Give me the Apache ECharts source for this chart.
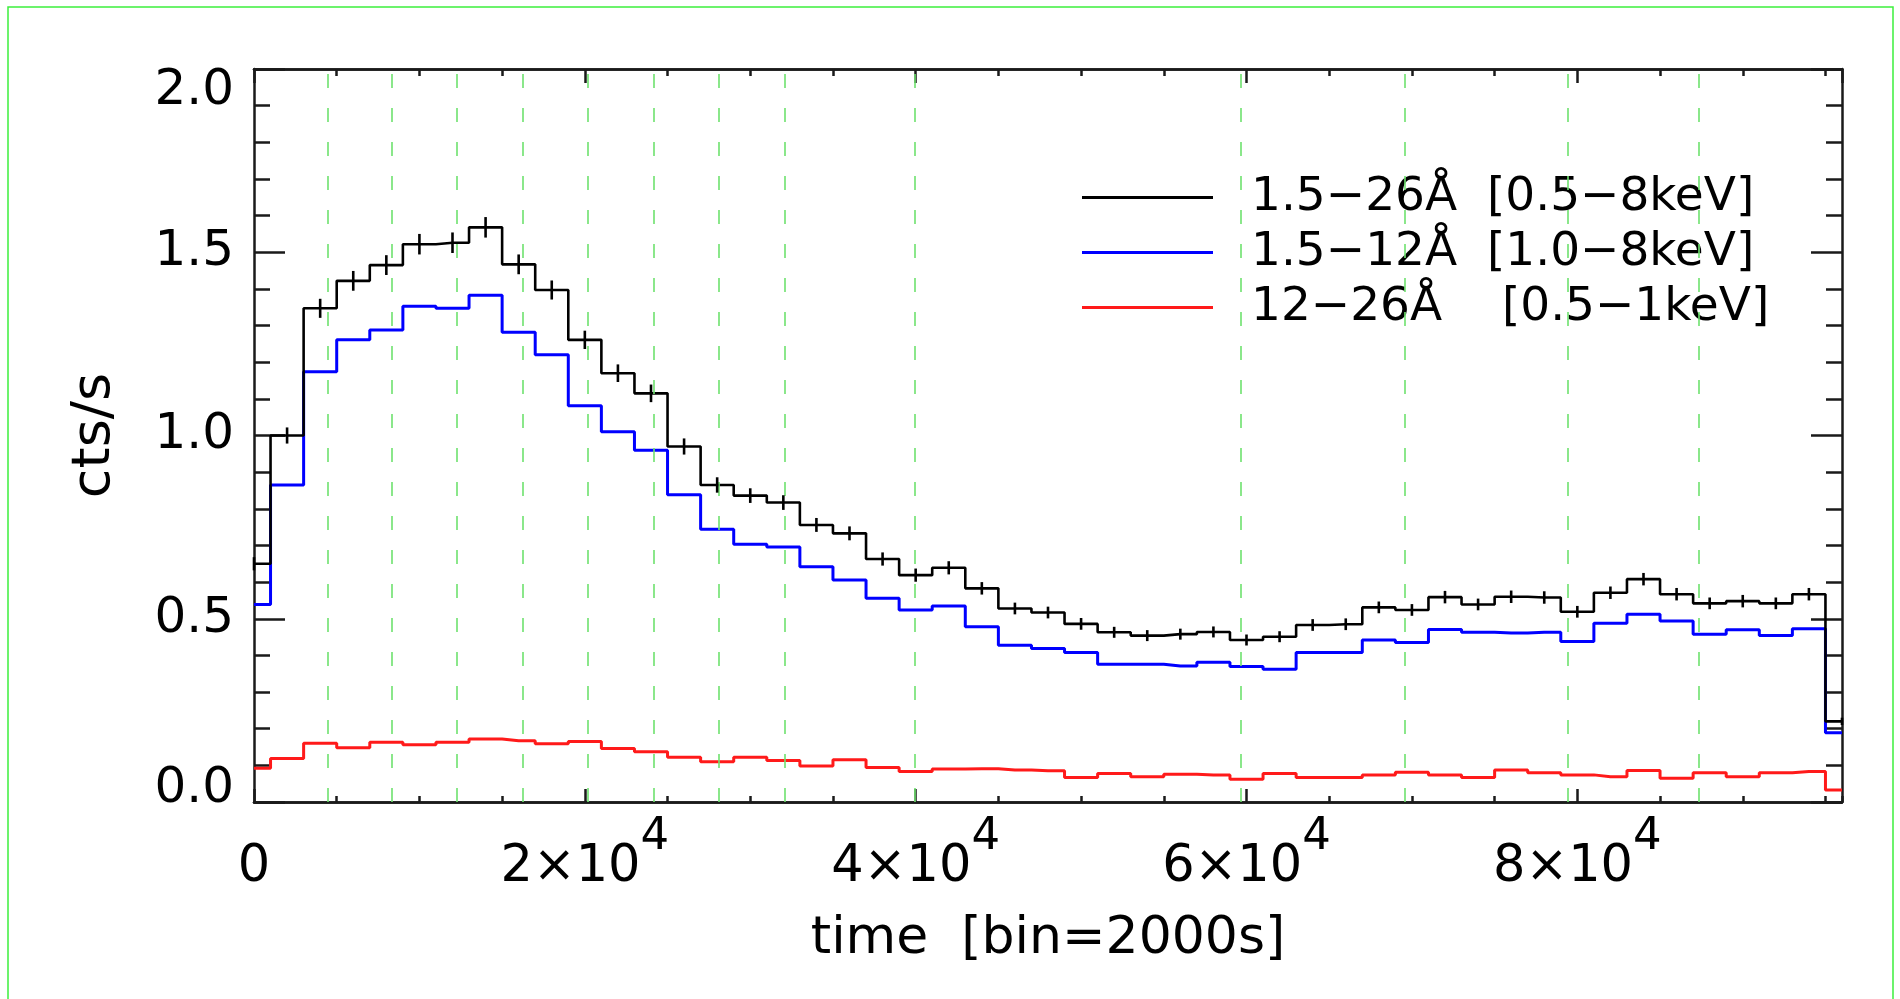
<!DOCTYPE html>
<html>
<head>
<meta charset="utf-8">
<script src="https://cdn.jsdelivr.net/npm/echarts@6/dist/echarts.min.js"></script>
<style>
  html, body { margin: 0; padding: 0; background: #ffffff; }
  #chart { width: 1900px; height: 999px; }
</style>
</head>
<body>
<div id="chart"></div>
<script>
// Light curve binned at 2000 s: count rate in three wavelength bands.
const binTimes = [
  0, 2000, 4000, 6000, 8000, 10000, 12000, 14000, 16000, 18000,
  20000, 22000, 24000, 26000, 28000, 30000, 32000, 34000, 36000, 38000,
  40000, 42000, 44000, 46000, 48000, 50000, 52000, 54000, 56000, 58000,
  60000, 62000, 64000, 66000, 68000, 70000, 72000, 74000, 76000, 78000,
  80000, 82000, 84000, 86000, 88000, 90000, 92000, 94000, 96000
];

// 1.5-26 Å  (0.5-8 keV)
const rateTotal = [
  0.650, 1.000, 1.347, 1.422, 1.465, 1.522, 1.526, 1.568, 1.467, 1.397,
  1.261, 1.170, 1.115, 0.970, 0.865, 0.836, 0.817, 0.756, 0.733, 0.663,
  0.619, 0.639, 0.583, 0.528, 0.517, 0.486, 0.463, 0.454, 0.458, 0.464,
  0.442, 0.451, 0.483, 0.485, 0.531, 0.524, 0.559, 0.539, 0.560, 0.558,
  0.519, 0.571, 0.608, 0.567, 0.542, 0.548, 0.542, 0.567, 0.220
];

// 1 sigma errors on the total band
const errTotal = [
  0.018, 0.022, 0.026, 0.027, 0.027, 0.028, 0.028, 0.028, 0.027, 0.026,
  0.025, 0.024, 0.024, 0.022, 0.021, 0.020, 0.020, 0.019, 0.019, 0.018,
  0.018, 0.018, 0.017, 0.016, 0.016, 0.016, 0.015, 0.015, 0.015, 0.015,
  0.015, 0.015, 0.016, 0.016, 0.016, 0.016, 0.017, 0.016, 0.017, 0.017,
  0.016, 0.017, 0.017, 0.017, 0.016, 0.017, 0.016, 0.017, 0.010
];

// 1.5-12 Å  (1.0-8 keV)
const rateHard = [
  0.539, 0.865, 1.174, 1.261, 1.288, 1.353, 1.347, 1.383, 1.282, 1.220,
  1.081, 1.010, 0.960, 0.838, 0.744, 0.703, 0.696, 0.642, 0.606, 0.556,
  0.524, 0.535, 0.478, 0.428, 0.419, 0.408, 0.376, 0.376, 0.371, 0.381,
  0.370, 0.362, 0.408, 0.408, 0.442, 0.435, 0.471, 0.463, 0.461, 0.463,
  0.438, 0.488, 0.512, 0.494, 0.458, 0.470, 0.454, 0.473, 0.189
];

// 12-26 Å  (0.5-1 keV)
const rateSoft = [
  0.092, 0.119, 0.160, 0.148, 0.163, 0.156, 0.163, 0.172, 0.167, 0.159,
  0.165, 0.146, 0.137, 0.122, 0.110, 0.122, 0.113, 0.098, 0.115, 0.094,
  0.083, 0.090, 0.091, 0.087, 0.085, 0.067, 0.078, 0.069, 0.076, 0.074,
  0.062, 0.078, 0.067, 0.067, 0.074, 0.081, 0.074, 0.067, 0.087, 0.080,
  0.074, 0.069, 0.086, 0.065, 0.080, 0.069, 0.080, 0.083, 0.033
];

// Reference epochs marked with dashed green lines (s)
const markerTimes = [4430, 8320, 12260, 16220, 20190, 24140, 28110, 32060, 39960, 59670, 69550, 79400, 87320];

const seriesNames = [
  '1.5\u221226\u00c5  [0.5\u22128keV]',
  '1.5\u221212\u00c5  [1.0\u22128keV]',
  '12\u221226\u00c5    [0.5\u22121keV]'
];
const seriesColors = ['#000000', '#0000ff', '#ff1a1a'];

const xMajorTicks = [0, 20000, 40000, 60000, 80000];
const yTicks = [0, 0.5, 1.0, 1.5, 2.0];
const xTitle = 'time  [bin=2000s]';
const yTitle = 'cts/s';

const FONT = 'DejaVu Sans';
const INK = '#1a1a1a';

const chart = echarts.init(document.getElementById('chart'), null, { renderer: 'canvas' });

function pairs(values) {
  return binTimes.map((t, i) => [t, values[i]]);
}

function xLabel(v) {
  if (xMajorTicks.indexOf(v) < 0) return '';
  if (v === 0) return '{m|0}';
  const exp = Math.floor(Math.log10(v) + 1e-9);
  const mant = Math.round(v / Math.pow(10, exp));
  return '{m|' + mant + '\u00d710}{e|' + exp + '}';
}

function yLabel(v) {
  if (yTicks.indexOf(v) < 0) return '';
  const s = v.toFixed(1);
  if (v === yTicks[yTicks.length - 1]) return '{top|' + s + '}';
  if (v === yTicks[0]) return '{bot|' + s + '}';
  return '{n|' + s + '}';
}

const axisLine = { show: true, onZero: false, lineStyle: { color: INK, width: 2.5 } };
const tickStyle = { color: INK, width: 2.5 };

const baseX = {
  type: 'value', min: 0, max: 96000,
  axisLine: axisLine,
  splitLine: { show: false },
  axisPointer: { show: false }
};
const baseY = {
  type: 'value', min: 0, max: 2, interval: 0.5,
  axisLine: axisLine,
  splitLine: { show: false },
  minorTick: { show: true, splitNumber: 5, length: 16, lineStyle: tickStyle },
  minorSplitLine: { show: false },
  axisPointer: { show: false }
};

const option = {
  backgroundColor: '#ffffff',
  animation: false,
  textStyle: { fontFamily: FONT },
  grid: { left: 254, right: 58, top: 69, bottom: 197, containLabel: false, outerBoundsMode: 'none' },
  graphic: [{
    type: 'rect',
    shape: { x: 8, y: 7, width: 1885, height: 1020 },
    style: { fill: 'none', stroke: '#3cf03c', lineWidth: 1.5 },
    silent: true, z: -10
  }],
  legend: {
    show: true,
    orient: 'vertical',
    left: 1082, top: 170,
    padding: 0,
    itemGap: 0,
    itemWidth: 131, itemHeight: 3,
    icon: 'rect',
    selectedMode: false,
    data: seriesNames,
    textStyle: { fontFamily: FONT, fontSize: 47, color: '#000', lineHeight: 55, padding: [0, 0, 0, 33] }
  },
  xAxis: [
    Object.assign({}, baseX, {
      position: 'bottom', interval: 20000,
      axisTick: { show: true, inside: true, length: 13, lineStyle: tickStyle },
      axisLabel: {
        show: true, margin: 13, color: '#000', fontFamily: FONT,
        showMaxLabel: false,
        formatter: xLabel,
        rich: {
          m: { fontSize: 51, fontFamily: FONT, color: '#000', padding: [27, 0, 0, 0] },
          e: { fontSize: 45, fontFamily: FONT, color: '#000', verticalAlign: 'top' }
        }
      },
      name: xTitle, nameLocation: 'middle', nameGap: 111,
      nameTextStyle: { fontFamily: FONT, fontSize: 52, color: '#000' }
    }),
    Object.assign({}, baseX, {
      position: 'bottom', interval: 5000,
      axisTick: { show: true, inside: true, length: 6, lineStyle: tickStyle },
      axisLabel: { show: false }
    }),
    Object.assign({}, baseX, {
      position: 'top', interval: 20000,
      axisTick: { show: true, inside: true, length: 14, lineStyle: tickStyle },
      axisLabel: { show: false }
    }),
    Object.assign({}, baseX, {
      position: 'top', interval: 5000,
      axisTick: { show: true, inside: true, length: 7, lineStyle: tickStyle },
      axisLabel: { show: false }
    })
  ],
  yAxis: [
    Object.assign({}, baseY, {
      position: 'left',
      axisTick: { show: true, inside: true, length: 31, lineStyle: tickStyle },
      axisLabel: {
        show: true, margin: 20, color: '#000', fontFamily: FONT,
        formatter: yLabel,
        rich: {
          n: { fontSize: 50, fontFamily: FONT, color: '#000' },
          top: { fontSize: 50, fontFamily: FONT, color: '#000', padding: [44, 0, 0, 0] },
          bot: { fontSize: 50, fontFamily: FONT, color: '#000', padding: [0, 0, 26, 0] }
        }
      },
      name: yTitle, nameLocation: 'middle', nameGap: 132, nameRotate: 90,
      nameTextStyle: { fontFamily: FONT, fontSize: 54, color: '#000' }
    }),
    Object.assign({}, baseY, {
      position: 'right',
      axisTick: { show: true, inside: true, length: 31, lineStyle: tickStyle },
      axisLabel: { show: false }
    })
  ],
  series: [
    {
      name: 'epochs', type: 'line', data: [], silent: true, z: 1,
      xAxisIndex: 0, yAxisIndex: 0,
      markLine: {
        silent: true, symbol: ['none', 'none'], animation: false,
        label: { show: false },
        lineStyle: { color: '#6ee26e', width: 1.6, type: [14, 20] },
        data: markerTimes.map(t => ({ xAxis: t }))
      }
    },
    {
      name: seriesNames[2], type: 'line', step: 'middle', data: pairs(rateSoft),
      xAxisIndex: 0, yAxisIndex: 0,
      symbol: 'none', showSymbol: false, silent: true, z: 3,
      itemStyle: { color: seriesColors[2] },
      lineStyle: { color: seriesColors[2], width: 3 }
    },
    {
      name: seriesNames[1], type: 'line', step: 'middle', data: pairs(rateHard),
      xAxisIndex: 0, yAxisIndex: 0,
      symbol: 'none', showSymbol: false, silent: true, z: 3,
      itemStyle: { color: seriesColors[1] },
      lineStyle: { color: seriesColors[1], width: 3 }
    },
    {
      name: seriesNames[0], type: 'line', step: 'middle', data: pairs(rateTotal),
      xAxisIndex: 0, yAxisIndex: 0,
      symbol: 'none', showSymbol: false, silent: true, z: 4,
      itemStyle: { color: seriesColors[0] },
      lineStyle: { color: seriesColors[0], width: 2.6 }
    },
    {
      name: 'errors', type: 'custom', silent: true, z: 5,
      xAxisIndex: 0, yAxisIndex: 0,
      data: binTimes.map((t, i) => [t, rateTotal[i], errTotal[i]]),
      renderItem: function (params, api) {
        const t = api.value(0), v = api.value(1), e = api.value(2);
        const p1 = api.coord([t, v - e]);
        const p2 = api.coord([t, v + e]);
        return {
          type: 'line',
          shape: { x1: p1[0], y1: p1[1], x2: p2[0], y2: p2[1] },
          style: { stroke: '#000', lineWidth: 2.6 }
        };
      }
    }
  ]
};

chart.setOption(option);
</script>
</body>
</html>
